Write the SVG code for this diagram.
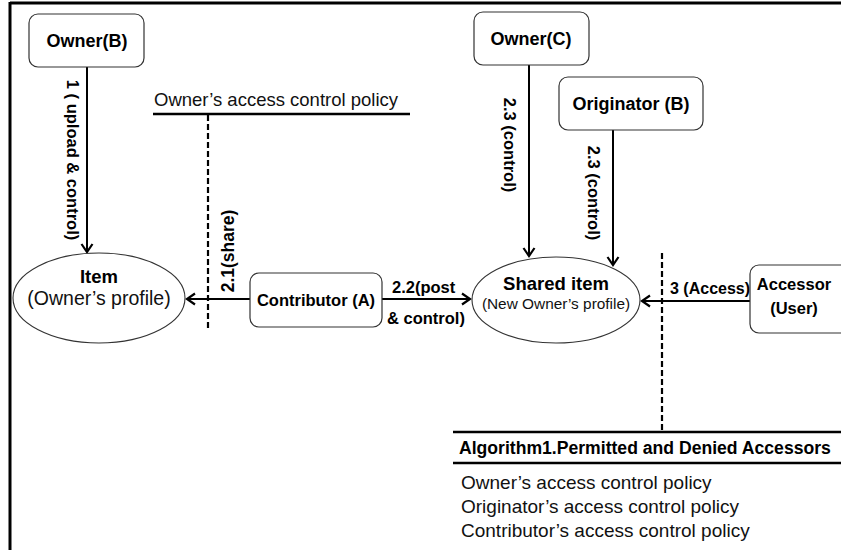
<svg xmlns="http://www.w3.org/2000/svg" width="841" height="550" viewBox="0 0 841 550">
<defs>
<marker id="arr" markerUnits="userSpaceOnUse" markerWidth="14" markerHeight="14" viewBox="-12 -7 14 14" refX="0" refY="0" orient="auto">
<path d="M-8,-5.5 L0,0 L-8,5.5" fill="none" stroke="#000" stroke-width="2.2"/>
</marker>
</defs>
<style>
.box{fill:#fff;stroke:#333;stroke-width:1.2}
.ell{fill:#fff;stroke:#333;stroke-width:1.1}
.b{font-family:"Liberation Sans",Arial,sans-serif;font-weight:bold;fill:#000}
.r{font-family:"Liberation Sans",Arial,sans-serif;fill:#111}
.edge{stroke:#000;stroke-width:2;fill:none}
.dash{stroke:#000;stroke-width:2.2;stroke-dasharray:6 3;fill:none}
.rule{stroke:#000;stroke-width:2.5}
</style>
<rect width="841" height="550" fill="#fff"/>
<g id="frame">
<line x1="10" y1="3" x2="841" y2="3" stroke="#000" stroke-width="3"/>
<line x1="10" y1="2" x2="10" y2="550" stroke="#000" stroke-width="3"/>
</g>
<g id="connectors">
<line class="edge" x1="87" y1="67" x2="87" y2="252" marker-end="url(#arr)"/>
<line class="edge" x1="250" y1="299" x2="187" y2="299" marker-end="url(#arr)"/>
<line class="edge" x1="382" y1="299" x2="470" y2="299" marker-end="url(#arr)"/>
<line class="edge" x1="529" y1="65" x2="529" y2="256" marker-end="url(#arr)"/>
<line class="edge" x1="613" y1="130" x2="613" y2="265" marker-end="url(#arr)"/>
<line class="edge" x1="750" y1="301" x2="642" y2="301" marker-end="url(#arr)"/>
<line class="dash" x1="208" y1="115" x2="208" y2="328"/>
<line class="dash" x1="662" y1="253" x2="662" y2="431"/>
<text class="b" font-size="16.5" text-anchor="middle" transform="translate(67,160) rotate(90)">1 ( upload &amp; control)</text>
<text class="b" font-size="17.5" text-anchor="middle" transform="translate(234,251) rotate(-90)">2.1(share)</text>
<text class="b" font-size="16.5" x="392" y="293">2.2(post</text>
<text class="b" font-size="16.5" x="387" y="324">&amp; control)</text>
<text class="b" font-size="16.5" text-anchor="middle" transform="translate(504,145) rotate(90)">2.3 (control)</text>
<text class="b" font-size="16.5" text-anchor="middle" transform="translate(588,193) rotate(90)">2.3 (control)</text>
<text class="b" font-size="16" x="670" y="294">3 (Access)</text>
</g>
<g id="owner-policy">
<text class="r" font-size="18.5" x="154" y="106">Owner’s access control policy</text>
<line class="rule" x1="153" y1="114" x2="410" y2="114"/>
</g>
<g id="owner-b">
<rect class="box" x="29" y="14" width="115" height="53" rx="9"/>
<text class="b" font-size="18" x="87" y="47" text-anchor="middle">Owner(B)</text>
</g>
<g id="item">
<ellipse class="ell" cx="99" cy="298" rx="86" ry="45"/>
<text class="b" font-size="18.5" x="99" y="283" text-anchor="middle">Item</text>
<text class="r" font-size="19.5" x="99" y="305" text-anchor="middle">(Owner’s profile)</text>
</g>
<g id="contributor">
<rect class="box" x="250" y="273" width="132" height="54" rx="9"/>
<text class="b" font-size="16.5" x="316" y="306" text-anchor="middle">Contributor (A)</text>
</g>
<g id="owner-c">
<rect class="box" x="474" y="12" width="115" height="53" rx="9"/>
<text class="b" font-size="18" x="531" y="45" text-anchor="middle">Owner(C)</text>
</g>
<g id="originator">
<rect class="box" x="559" y="77" width="144" height="53" rx="9"/>
<text class="b" font-size="18" x="631" y="110" text-anchor="middle">Originator (B)</text>
</g>
<g id="shared-item">
<ellipse class="ell" cx="556" cy="300" rx="84" ry="43"/>
<text class="b" font-size="18.5" x="556" y="290" text-anchor="middle">Shared item</text>
<text class="r" font-size="15.4" x="556" y="309" text-anchor="middle">(New Owner’s profile)</text>
</g>
<g id="accessor">
<rect class="box" x="750" y="265" width="110" height="68" rx="9"/>
<text class="b" font-size="16.5" x="794" y="290" text-anchor="middle">Accessor</text>
<text class="b" font-size="16.5" x="794" y="314" text-anchor="middle">(User)</text>
</g>
<g id="algorithm">
<line class="rule" x1="453" y1="432" x2="841" y2="432"/>
<text class="b" font-size="17.6" x="459" y="454">Algorithm1.Permitted and Denied Accessors</text>
<line class="rule" x1="453" y1="463" x2="841" y2="463"/>
<text class="r" font-size="19" x="461" y="489">Owner’s access control policy</text>
<text class="r" font-size="19" x="461" y="513">Originator’s access control policy</text>
<text class="r" font-size="19" x="461" y="537">Contributor’s access control policy</text>
</g>
</svg>
